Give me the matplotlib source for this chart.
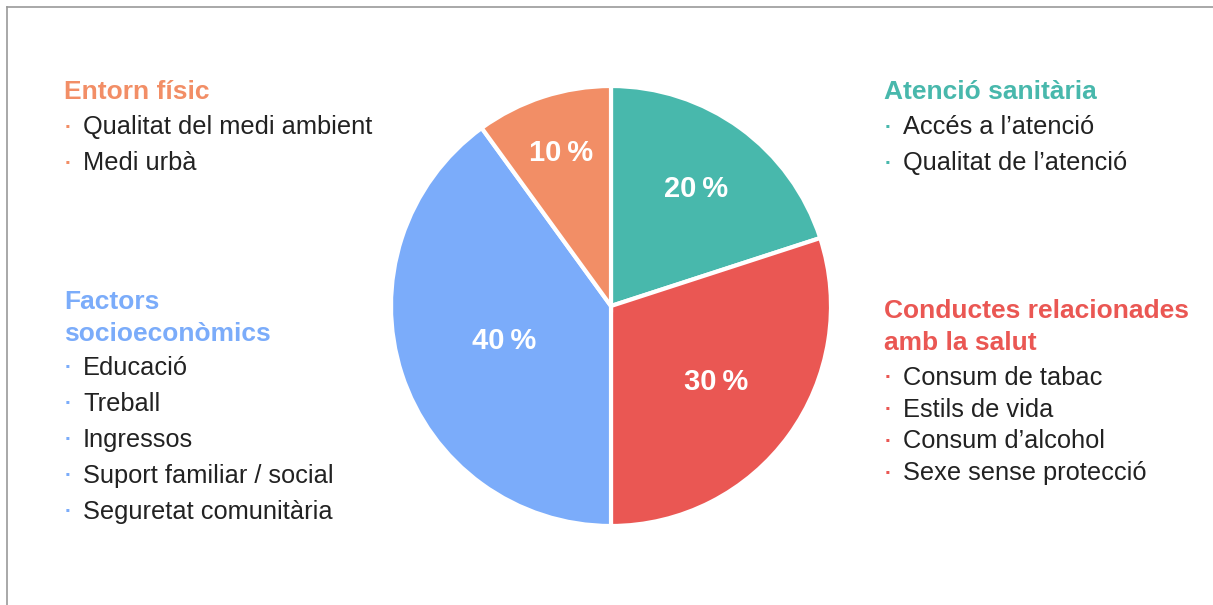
import numpy as np
import matplotlib.pyplot as plt
from matplotlib.lines import Line2D

# data
shares = [20, 30, 40, 10]
pct_labels = ['20\u2009%', '30\u2009%', '40\u2009%', '10\u2009%']
colors = ['#48B8AC', '#EA5753', '#7BACFA', '#F28E66']
label_r = [0.66, 0.59, 0.51, 0.73]

head_entorn = ['Entorn físic']
items_entorn = ['Qualitat del medi ambient', 'Medi urbà']
head_atencio = ['Atenció sanitària']
items_atencio = ['Accés a l\u2019atenció', 'Qualitat de l\u2019atenció']
head_socio = ['Factors', 'socioeconòmics']
items_socio = ['Educació', 'Treball', 'Ingressos', 'Suport familiar / social',
               'Seguretat comunitària']
head_conductes = ['Conductes relacionades', 'amb la salut']
items_conductes = ['Consum de tabac', 'Estils de vida', 'Consum d\u2019alcohol',
                   'Sexe sense protecció']

W, H = 1213, 605
plt.rcParams['font.family'] = ['Liberation Sans', 'DejaVu Sans']
fig = plt.figure(figsize=(W / 100, H / 100), dpi=100)

def fx(px):
    return px / W

def fy(py):
    return 1 - py / H

# frame lines (top and left only)
fig.add_artist(Line2D([fx(7), 1], [fy(7), fy(7)], color='#9a9a9a', lw=1.2))
fig.add_artist(Line2D([fx(7), fx(7)], [fy(7), 0], color='#9a9a9a', lw=1.2))

# pie
cx, cy, r = 611, 306, 220
ax = fig.add_axes([fx(cx - r), fy(cy + r), 2 * r / W, 2 * r / H])
wedges, _ = ax.pie(shares, colors=colors, startangle=90, counterclock=False,
                   radius=1, wedgeprops=dict(edgecolor='white', linewidth=3))
ax.set_xlim(-1, 1)
ax.set_ylim(-1, 1)
ax.set_aspect('equal')
ax.axis('off')

for w, lab, lr in zip(wedges, pct_labels, label_r):
    ang = np.deg2rad((w.theta1 + w.theta2) / 2)
    ax.text(lr * np.cos(ang), lr * np.sin(ang), lab, color='white',
            fontsize=21, fontweight='bold', ha='center', va='center')

def block(x, heads, items, head_y, item_y, color):
    for t, y in zip(heads, head_y):
        fig.text(fx(x), fy(y + 1), t, color=color, fontsize=19, fontweight='bold',
                 ha='left', va='center')
    for t, y in zip(items, item_y):
        fig.text(fx(x + 1), fy(y), '·', color=color, fontsize=15,
                 ha='left', va='center', fontweight='bold')
        fig.text(fx(x + 19), fy(y), t, color='#222222', fontsize=18.3,
                 ha='left', va='center')

block(64, head_entorn, items_entorn, [91], [127, 163], colors[3])
block(884, head_atencio, items_atencio, [91], [127, 163], colors[0])
block(64, head_socio, items_socio, [301, 333], [368, 404, 440, 476, 512], colors[2])
block(884, head_conductes, items_conductes, [310, 342], [378, 410, 441, 473], colors[1])

fig.savefig('out.png', dpi=100)
